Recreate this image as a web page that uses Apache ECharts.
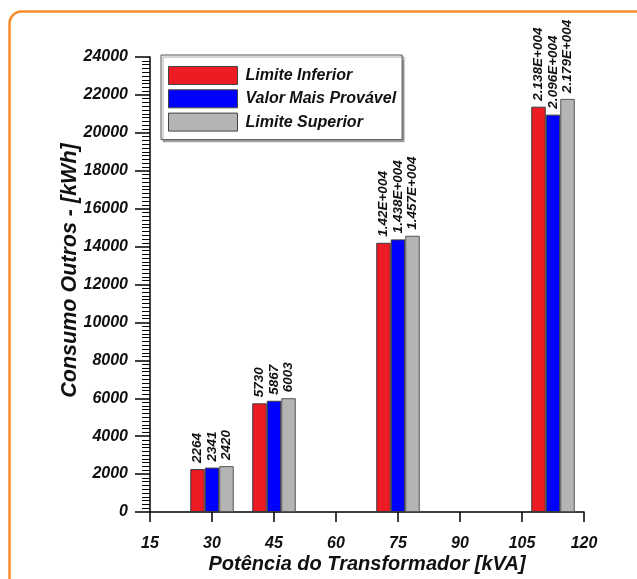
<!DOCTYPE html>
<html>
<head>
<meta charset="utf-8">
<script src="https://cdn.jsdelivr.net/npm/echarts@6/dist/echarts.min.js"></script>
<style>
  html, body { margin: 0; padding: 0; background: #fff; }
  #chart { width: 637px; height: 579px; }
</style>
</head>
<body>
<div id="chart"></div>
<script>
// Transformer rating (kVA) for each bar group
const kva = [30, 45, 75, 112.5];
// Consumption estimates [kWh]
const limiteInferior = [2264, 5730, 14200, 21380];
const valorMaisProvavel = [2341, 5867, 14380, 20960];
const limiteSuperior = [2420, 6003, 14570, 21790];
const seriesNames = ['Limite Inferior', 'Valor Mais Provável', 'Limite Superior'];
const xTicks = { min: 15, max: 120, step: 15 };
const yTicks = { min: 0, max: 24000, step: 2000 };

const FONT = '"Liberation Sans", Arial, Helvetica, sans-serif';

// Values of 10000 and above are written in E notation, e.g. 1.42E+004
function formatValue(v) {
  if (v < 10000) return String(v);
  const e = Math.floor(Math.log10(v));
  const m = parseFloat((v / Math.pow(10, e)).toFixed(3));
  return m + 'E+' + String(e).padStart(3, '0');
}

function barSeries(name, values, color, borderColor) {
  return {
    name: name,
    type: 'bar',
    data: kva.map((x, i) => [x, values[i]]),
    barWidth: 14.5,
    barGap: '0%',
    itemStyle: { color: color, borderColor: borderColor, borderWidth: 1 },
    label: {
      show: true,
      position: 'top',
      rotate: 90,
      align: 'left',
      verticalAlign: 'middle',
      distance: 6,
      formatter: p => formatValue(p.value[1]),
      fontFamily: FONT,
      fontStyle: 'italic',
      fontWeight: 'bold',
      fontSize: 13.5,
      color: '#111'
    },
    emphasis: { disabled: true }
  };
}

const chart = echarts.init(document.getElementById('chart'), null, { renderer: 'canvas' });
chart.setOption({
  animation: false,
  backgroundColor: '#fff',
  graphic: [{
    type: 'rect',
    shape: { x: 9.5, y: 11.5, width: 700, height: 700, r: 12 },
    style: { fill: 'none', stroke: '#F68B2C', lineWidth: 2.5 },
    silent: true,
    z: -1
  }],
  grid: { left: 150, right: 53, top: 57, bottom: 65, containLabel: false },
  legend: {
    orient: 'vertical',
    left: 161,
    top: 55,
    padding: [11, 6, 8, 7],
    itemWidth: 69,
    itemHeight: 18,
    itemGap: 4.3,
    icon: 'rect',
    backgroundColor: '#fff',
    borderColor: '#555',
    borderWidth: 1,
    shadowColor: 'rgba(0,0,0,0.35)',
    shadowOffsetX: 2,
    shadowOffsetY: 2,
    shadowBlur: 1,
    itemStyle: { borderColor: '#444', borderWidth: 1 },
    textStyle: {
      fontFamily: FONT,
      fontStyle: 'italic',
      fontWeight: 'bold',
      fontSize: 16,
      color: '#111',
      padding: [0, 0, 0, 3]
    },
    data: seriesNames
  },
  xAxis: {
    type: 'value',
    min: xTicks.min,
    max: xTicks.max,
    interval: xTicks.step,
    name: 'Potência do Transformador [kVA]',
    nameLocation: 'middle',
    nameGap: 42,
    nameMoveOverlap: false,
    nameTextStyle: {
      fontFamily: FONT, fontStyle: 'italic', fontWeight: 'bold', fontSize: 20, color: '#111'
    },
    axisLine: { show: true, onZero: false, lineStyle: { color: '#000', width: 1.5 } },
    axisTick: { show: true, length: 10, lineStyle: { color: '#000', width: 1.5 } },
    axisLabel: {
      margin: 24,
      fontFamily: FONT, fontStyle: 'italic', fontWeight: 'bold', fontSize: 16, color: '#111',
      formatter: v => String(v)
    },
    splitLine: { show: false }
  },
  yAxis: {
    type: 'value',
    min: yTicks.min,
    max: yTicks.max,
    interval: yTicks.step,
    name: 'Consumo Outros - [kWh]',
    nameLocation: 'middle',
    nameGap: 69,
    nameMoveOverlap: false,
    nameTextStyle: {
      fontFamily: FONT, fontStyle: 'italic', fontWeight: 'bold', fontSize: 21.5, color: '#111',
      padding: [0, 0, 0, 28]
    },
    axisLine: { show: true, lineStyle: { color: '#000', width: 1.5 } },
    axisTick: { show: true, length: 15, lineStyle: { color: '#000', width: 1.5 } },
    minorTick: { show: true, splitNumber: 10, length: 8, lineStyle: { color: '#000', width: 1 } },
    axisLabel: {
      margin: 22,
      fontFamily: FONT, fontStyle: 'italic', fontWeight: 'bold', fontSize: 16, color: '#111',
      formatter: v => String(v)
    },
    splitLine: { show: false },
    minorSplitLine: { show: false }
  },
  series: [
    barSeries(seriesNames[0], limiteInferior, '#ED1C24', '#3a3a3a'),
    barSeries(seriesNames[1], valorMaisProvavel, '#0000FF', '#3a3a3a'),
    barSeries(seriesNames[2], limiteSuperior, '#B4B4B4', '#555')
  ]
});
</script>
</body>
</html>
